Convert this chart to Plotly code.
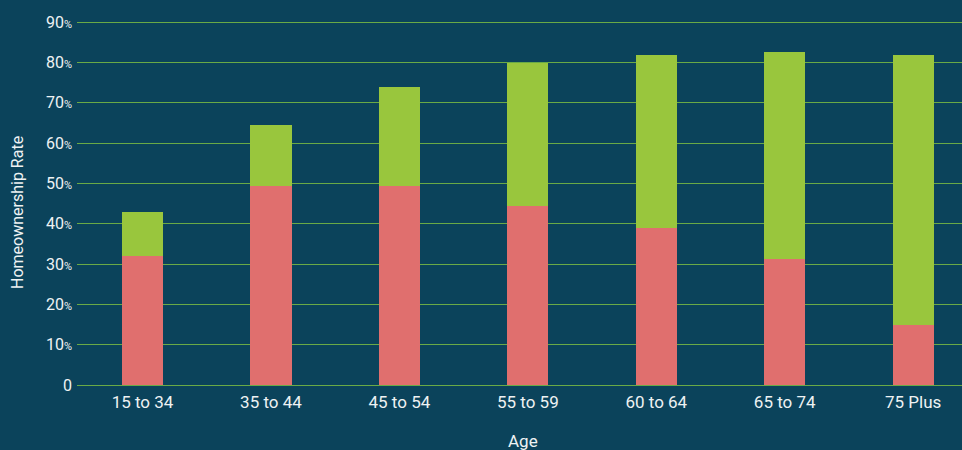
import plotly.graph_objects as go

categories = ["15 to 34", "35 to 44", "45 to 54", "55 to 59", "60 to 64", "65 to 74", "75 Plus"]
lower_values = [32.0, 49.5, 49.5, 44.5, 39.0, 31.2, 15.0]
total_values = [43.0, 64.6, 74.0, 79.8, 81.9, 82.6, 81.9]
upper_values = [round(t - l, 1) for t, l in zip(total_values, lower_values)]
tick_vals = [0, 10, 20, 30, 40, 50, 60, 70, 80, 90]
tick_text = ["0"] + [f"{v}<span style='font-size:11px'>%</span>" for v in tick_vals[1:]]

BG = "#0b435b"
RED = "#e06f6e"
GREEN = "#99c63d"
GRID = "#6aaa46"
TXT = "#eef2f3"

fig = go.Figure()
fig.add_trace(go.Bar(x=categories, y=lower_values, marker=dict(color=RED, line=dict(width=0)),
                     width=0.32, hoverinfo="skip"))
fig.add_trace(go.Bar(x=categories, y=upper_values, marker=dict(color=GREEN, line=dict(width=0)),
                     width=0.32, hoverinfo="skip"))

fig.update_layout(
    barmode="stack",
    width=962, height=450,
    margin=dict(l=77, r=0, t=10, b=65),
    paper_bgcolor=BG, plot_bgcolor=BG,
    showlegend=False,
    font=dict(family="Roboto, sans-serif", color=TXT, size=16),
    xaxis=dict(
        range=[-0.51, 6.38],
        showgrid=False, showline=False, zeroline=False,
        tickfont=dict(size=17, color=TXT),
        ticks="", ticklabelstandoff=5,
    ),
    yaxis=dict(
        range=[0, 93.05],
        tickvals=tick_vals, ticktext=tick_text,
        showgrid=True, gridcolor=GRID, gridwidth=1,
        zeroline=True, zerolinecolor=GRID, zerolinewidth=1,
        showline=False, ticks="",
        tickfont=dict(size=16, color=TXT),
        ticklabelstandoff=4,
    ),
    annotations=[
        dict(text="Age", xref="paper", yref="paper", x=0.504, y=-0.149,
             xanchor="center", yanchor="middle", showarrow=False,
             font=dict(size=17, color=TXT)),
        dict(text="Homeownership Rate", xref="paper", yref="paper",
             x=(17 - 77) / 885, y=(385 - 213) / 375, textangle=-90,
             xanchor="center", yanchor="middle", showarrow=False,
             font=dict(size=16, color=TXT)),
    ],
)

fig.write_html("out.html")
